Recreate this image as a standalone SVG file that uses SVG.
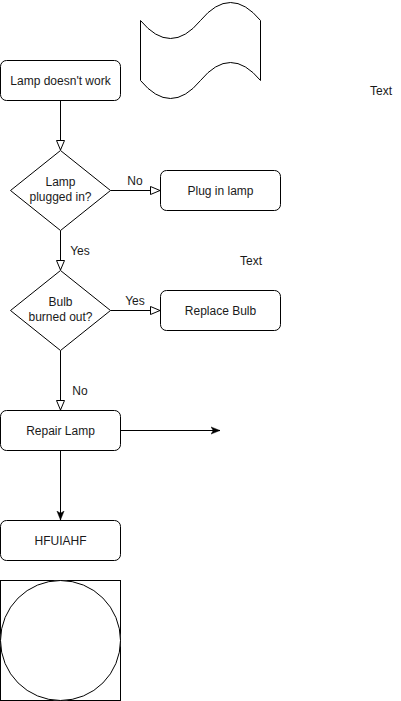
<svg xmlns="http://www.w3.org/2000/svg" width="401" height="701" viewBox="0 0 401 701">
  <style>
    .box { fill: #ffffff; stroke: #000000; stroke-width: 1; }
    .edge { fill: none; stroke: #000000; stroke-width: 1; }
    .lbl { font-family: "Liberation Sans", Arial, Helvetica, sans-serif; font-size: 12px; fill: #1a1a1a; text-anchor: middle; }
  </style>
  <defs>
    <marker id="openBlock" viewBox="0 0 10 10" refX="10" refY="5" markerWidth="10" markerHeight="10" markerUnits="userSpaceOnUse" orient="auto">
      <path d="M0.5,1 L10,5 L0.5,9 Z" fill="#ffffff" stroke="#000000" stroke-width="1"/>
    </marker>
    <marker id="classic" viewBox="0 0 10 10" refX="10" refY="5" markerWidth="9" markerHeight="9" markerUnits="userSpaceOnUse" orient="auto">
      <path d="M0,1 L10,5 L0,9 L2.5,5 Z" fill="#000000" stroke="#000000" stroke-width="0.5"/>
    </marker>
  </defs>

  <!-- connectors -->
  <g id="edges">
    <path class="edge" d="M60.5,100.5 L60.5,150" marker-end="url(#openBlock)"/>
    <path class="edge" d="M110.5,190.5 L160,190.5" marker-end="url(#openBlock)"/>
    <text class="lbl" x="135" y="185">No</text>
    <path class="edge" d="M60.5,230.5 L60.5,270" marker-end="url(#openBlock)"/>
    <text class="lbl" x="80" y="255">Yes</text>
    <path class="edge" d="M110.5,310.5 L160,310.5" marker-end="url(#openBlock)"/>
    <text class="lbl" x="135" y="305">Yes</text>
    <path class="edge" d="M60.5,350.5 L60.5,410" marker-end="url(#openBlock)"/>
    <text class="lbl" x="80" y="395">No</text>
    <path class="edge" d="M120.5,430.5 L220,430.5" marker-end="url(#classic)"/>
    <path class="edge" d="M60.5,450.5 L60.5,520" marker-end="url(#classic)"/>
  </g>

  <g id="start">
    <rect class="box" x="0.5" y="60.5" width="120" height="40" rx="6" ry="6"/>
    <text class="lbl" x="60.5" y="85">Lamp doesn't work</text>
  </g>

  <g id="tape">
    <path class="box" d="M140.5,20.5 Q170.5,56.5 200.5,20.5 Q230.5,-15.5 260.5,20.5 L260.5,80.5 Q230.5,44.5 200.5,80.5 Q170.5,116.5 140.5,80.5 Z"/>
  </g>

  <g id="text1">
    <text class="lbl" x="381" y="95">Text</text>
  </g>

  <g id="q1">
    <path class="box" d="M60.5,150.5 L110.5,190.5 L60.5,230.5 L10.5,190.5 Z"/>
    <text class="lbl" x="60.5" y="186">Lamp</text>
    <text class="lbl" x="60.5" y="201">plugged in?</text>
  </g>

  <g id="plug">
    <rect class="box" x="160.5" y="170.5" width="120" height="40" rx="6" ry="6"/>
    <text class="lbl" x="220.5" y="195">Plug in lamp</text>
  </g>

  <g id="text2">
    <text class="lbl" x="251" y="265">Text</text>
  </g>

  <g id="q2">
    <path class="box" d="M60.5,270.5 L110.5,310.5 L60.5,350.5 L10.5,310.5 Z"/>
    <text class="lbl" x="60.5" y="306">Bulb</text>
    <text class="lbl" x="60.5" y="321">burned out?</text>
  </g>

  <g id="replace">
    <rect class="box" x="160.5" y="290.5" width="120" height="40" rx="6" ry="6"/>
    <text class="lbl" x="220.5" y="315">Replace Bulb</text>
  </g>

  <g id="repair">
    <rect class="box" x="0.5" y="410.5" width="120" height="40" rx="6" ry="6"/>
    <text class="lbl" x="60.5" y="435">Repair Lamp</text>
  </g>

  <g id="hfuiahf">
    <rect class="box" x="0.5" y="520.5" width="120" height="40" rx="6" ry="6"/>
    <text class="lbl" x="60.5" y="545">HFUIAHF</text>
  </g>

  <g id="framedCircle">
    <rect class="box" x="0.5" y="580.5" width="120" height="120"/>
    <circle class="box" cx="60.5" cy="640.5" r="60"/>
  </g>
</svg>
